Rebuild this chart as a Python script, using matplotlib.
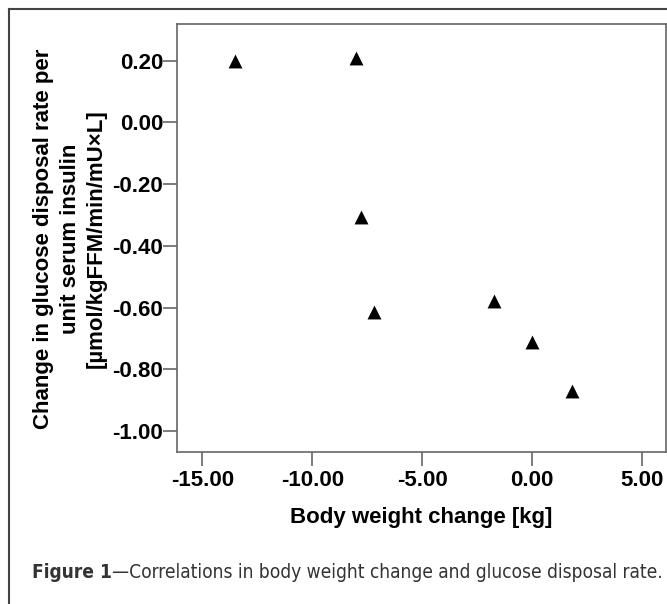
import matplotlib
matplotlib.use("Agg")
import matplotlib.pyplot as plt
from matplotlib import font_manager
from matplotlib.lines import Line2D

# ---- data ----
weight_change = [-13.52, -8.01, -7.79, -7.19, -1.71, 0.02, 1.82]
gdr_change = [0.20, 0.209, -0.306, -0.613, -0.578, -0.712, -0.870]
xticks = [-15.0, -10.0, -5.0, 0.0, 5.0]
yticks = [0.20, 0.00, -0.20, -0.40, -0.60, -0.80, -1.00]
xlabel = "Body weight change [kg]"
ylabel_lines = ["Change in glucose disposal rate per",
                "unit serum insulin",
                "[\u00b5mol/kgFFM/min/mU\u00d7L]"]
caption_bold = "Figure 1"
caption_rest = "\u2014Correlations in body weight change and glucose disposal rate."

names = {f.name for f in font_manager.fontManager.ttflist}
main_font = "Liberation Sans" if "Liberation Sans" in names else "DejaVu Sans"
plt.rcParams["font.family"] = [main_font, "DejaVu Sans"]

# look for a condensed / narrow font file for the caption
def find_font(keys, bold):
    for f in font_manager.fontManager.ttflist:
        fn = f.fname.lower()
        if any(k in fn for k in keys):
            isbold = "bold" in fn
            if isbold == bold and "oblique" not in fn and "italic" not in fn:
                return f.fname
    return None

reg_file = find_font(["liberationsansnarrow-regular", "liberationsansnarrow"], False) or \
    find_font(["dejavusanscondensed"], False)
bold_file = find_font(["liberationsansnarrow-bold"], True) or \
    find_font(["dejavusanscondensed-bold"], True)

W, H, DPI = 667, 604, 100
fig = plt.figure(figsize=(W / DPI, H / DPI), dpi=DPI)
fig.patch.set_facecolor("white")

# outer frame (top and left only visible)
fx, fy = 8.5 / W, 1 - 9 / H
fig.add_artist(Line2D([fx, 1.0], [fy, fy], transform=fig.transFigure, color="#444444", lw=1.5))
fig.add_artist(Line2D([fx, fx], [0.0, fy], transform=fig.transFigure, color="#444444", lw=1.5))

ax_left, ax_right, ax_top, ax_bot = 177, 665.7, 24, 452
ax = fig.add_axes([ax_left / W, 1 - ax_bot / H, (ax_right - ax_left) / W, (ax_bot - ax_top) / H])
ax.scatter(weight_change, gdr_change, marker="^", s=100, color="black", linewidths=0, zorder=3)
ax.set_xlim(-16.16, 6.10)
ax.set_ylim(-1.068, 0.319)
ax.set_xticks(xticks)
ax.set_xticklabels([f"{v:.2f}" for v in xticks])
ax.set_yticks(yticks)
ax.set_yticklabels([f"{v:.2f}" for v in yticks])
for sp in ax.spines.values():
    sp.set_color("#666666")
    sp.set_linewidth(1.2)
ax.tick_params(axis="both", direction="out", length=10, width=1.2, color="#666666",
               labelsize=16, pad=0)
for lab in ax.get_xticklabels() + ax.get_yticklabels():
    lab.set_fontweight("bold")
ax.tick_params(axis="x", pad=3)

ax.set_xlabel(xlabel, fontsize=16, fontweight="bold", va="center")
ax.xaxis.set_label_coords(0.5, (ax_bot - 518) / (ax_bot - ax_top))

# y-axis title: three centred lines
ycen = 1 - 238.5 / H
for xc, line in zip([44, 70, 96], ylabel_lines):
    fig.text(xc / W, ycen, line, rotation=90, ha="center", va="center",
             fontsize=16, fontweight="bold", color="black")

# caption with bold prefix
fig.canvas.draw()
r = fig.canvas.get_renderer()
cy = 1 - 572 / H
target_w = 663 - 32

def make_caption(size):
    kw_b = dict(color="#333333", va="center", ha="left")
    kw_r = dict(color="#333333", va="center", ha="left")
    if bold_file:
        kw_b["fontproperties"] = font_manager.FontProperties(fname=bold_file, size=size)
    else:
        kw_b.update(fontsize=size, fontweight="bold")
    if reg_file:
        kw_r["fontproperties"] = font_manager.FontProperties(fname=reg_file, size=size)
    else:
        kw_r.update(fontsize=size)
    t1 = fig.text(32 / W, cy, caption_bold, **kw_b)
    bb = t1.get_window_extent(renderer=r)
    t2 = fig.text(bb.x1 / W, cy, caption_rest, **kw_r)
    bb2 = t2.get_window_extent(renderer=r)
    return t1, t2, bb2.x1 - bb.x0

size = 15.5
t1, t2, w = make_caption(size)
if w > target_w:
    t1.remove(); t2.remove()
    size = size * target_w / w
    t1, t2, w = make_caption(size)

fig.savefig("out.png", dpi=DPI)
